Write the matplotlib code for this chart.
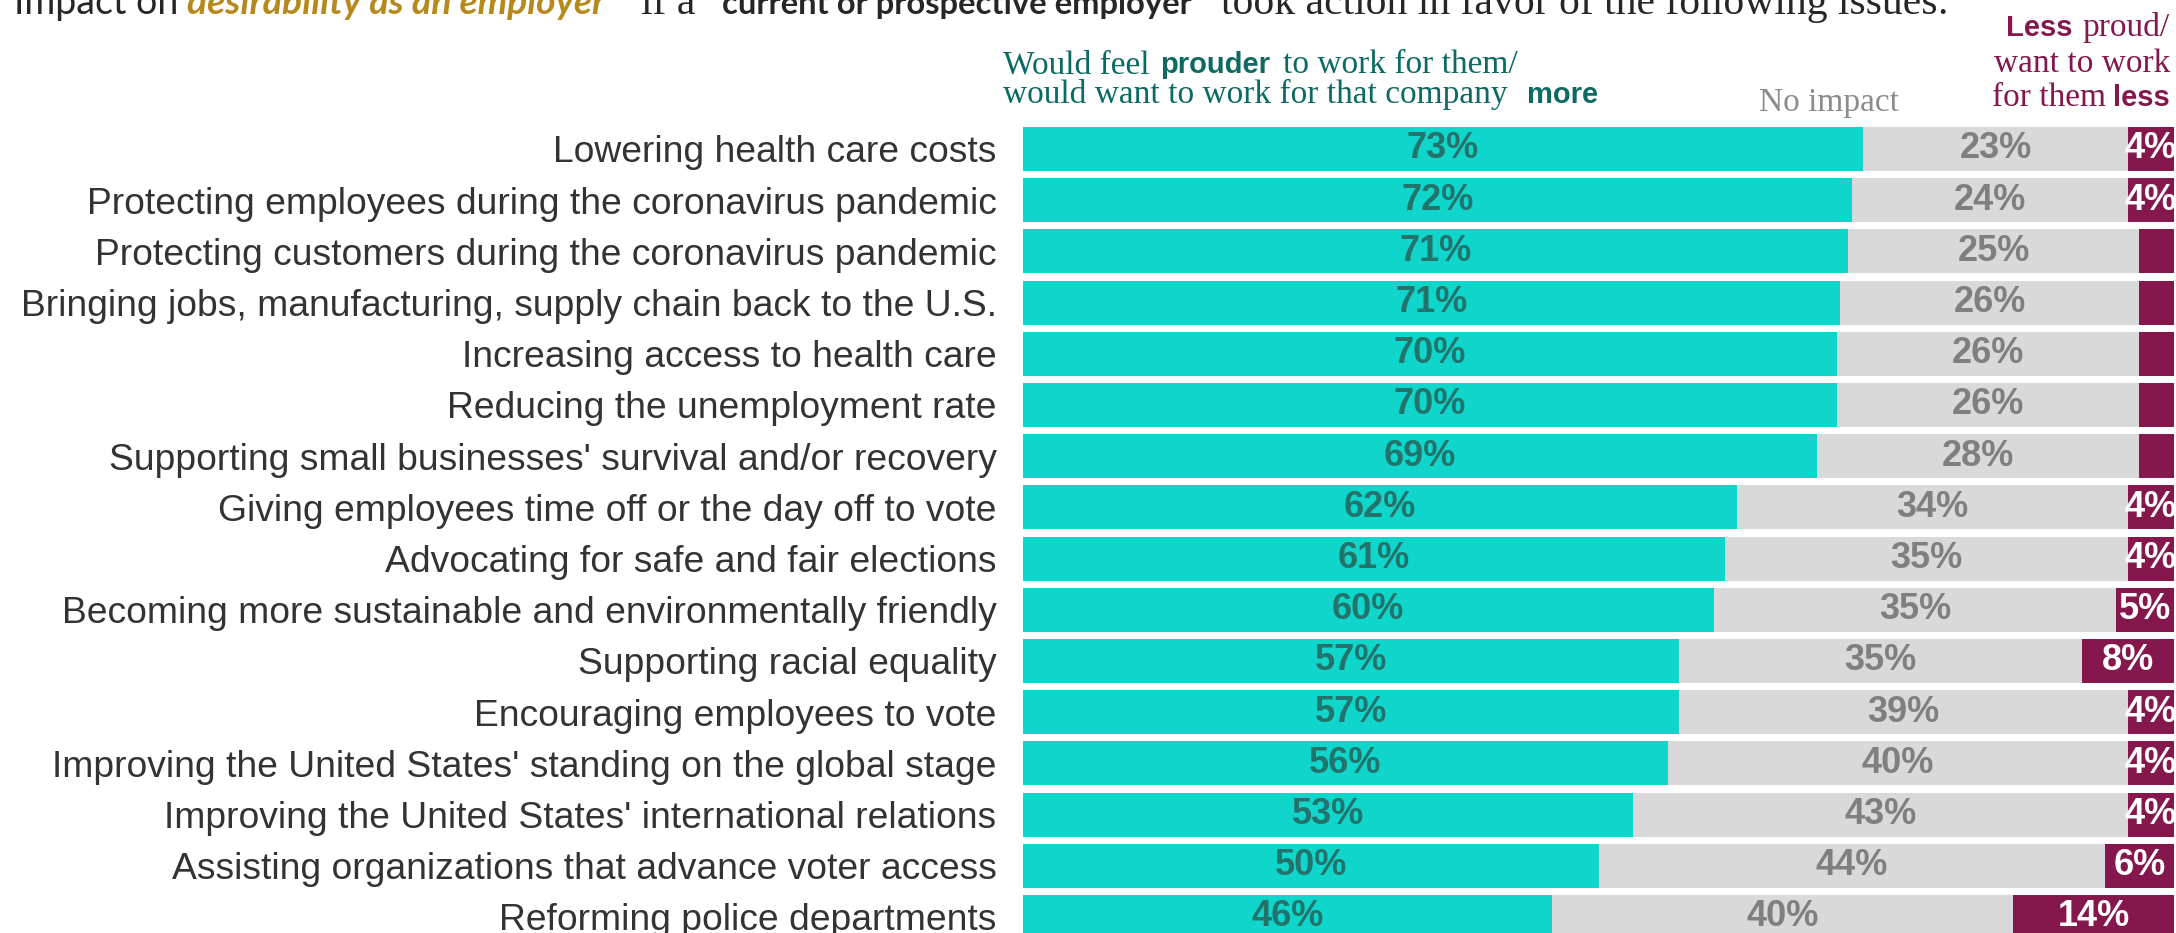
import matplotlib.pyplot as plt
import numpy as np

issues = [
    'Lowering health care costs',
    'Protecting employees during the coronavirus pandemic',
    'Protecting customers during the coronavirus pandemic',
    'Bringing jobs, manufacturing, supply chain back to the U.S.',
    'Increasing access to health care',
    'Reducing the unemployment rate',
    "Supporting small businesses' survival and/or recovery",
    'Giving employees time off or the day off to vote',
    'Advocating for safe and fair elections',
    'Becoming more sustainable and environmentally friendly',
    'Supporting racial equality',
    'Encouraging employees to vote',
    "Improving the United States' standing on the global stage",
    "Improving the United States' international relations",
    'Assisting organizations that advance voter access',
    'Reforming police departments',
]
more = [73, 72, 71, 71, 70, 70, 69, 62, 61, 60, 57, 57, 56, 53, 50, 46]
no_impact = [23, 24, 25, 26, 26, 26, 28, 34, 35, 35, 35, 39, 40, 43, 44, 40]
less = [4, 4, 3, 3, 3, 3, 3, 4, 4, 5, 8, 4, 4, 4, 6, 14]

TEAL = '#10d5cb'
GREY = '#d9d9d9'
PLUM = '#84174c'
SERIF = 'Liberation Serif'
SANS = 'Liberation Sans'

W, H = 2176, 933
fig = plt.figure(figsize=(W / 100, H / 100), dpi=100)
ax = fig.add_axes([1023 / W, 1 - 942.6 / H, 1151 / W, (942.6 - 123.4) / H])

# 100% stacked bars: each row is scaled by its own total
raw = [np.array(v, dtype=float) for v in (more, no_impact, less)]
total = raw[0] + raw[1] + raw[2]
y = np.arange(len(issues))
left = np.zeros(len(issues))
for vals, colour, txt in zip(raw, (TEAL, GREY, PLUM), ('#21736c', '#7f7f7f', 'white')):
    share = vals / total * 100
    bars = ax.barh(y, share, left=left, height=0.86, color=colour, linewidth=0)
    labels = [f'{v:.0f}%' if v >= 4 else '' for v in vals]
    ax.bar_label(bars, labels=labels, label_type='center', color=txt,
                 fontsize=26, family=SANS, weight='bold')
    left += share

ax.set_xlim(0, 100)
ax.set_ylim(15.5, -0.5)
ax.set_yticks(y, issues, fontsize=26.85, color='#333333', family=SANS)
ax.tick_params(axis='y', length=0, pad=19)
ax.set_xticks([])
for s in ax.spines.values():
    s.set_visible(False)


def put(x, yy, s, **kw):
    kw.setdefault('va', 'baseline')
    return fig.text(x / W, 1 - yy / H, s, **kw)


# title line
INK = '#262626'
put(14, 14, 'Impact on', family='Lato', size=27, color=INK)
put(187, 14, 'desirability as an employer', family='Lato', size=26.8,
    weight='bold', style='italic', color='#b5891c')
put(620, 14, '"', family=SERIF, size=30, color=INK)
put(641, 14, 'if a', family=SERIF, size=30, color=INK)
put(722, 14, 'current or prospective employer', family='Lato', size=23.6,
    weight='bold', color=INK)
put(1200, 14, '"', family=SERIF, size=30, color=INK)
put(1221, 14, 'took action in favor of the following issues:', family=SERIF,
    size=30, color=INK)

# column headers
DARK_TEAL = '#0b6b62'
put(1003, 73, 'Would feel', family=SERIF, size=24, color=DARK_TEAL)
put(1160, 73, 'prouder', family=SANS, size=21, weight='bold', color=DARK_TEAL)
put(1283, 73, 'to work for them/', family=SERIF, size=24, color=DARK_TEAL)
put(1003, 103, 'would want to work for that company', family=SERIF, size=24,
    color=DARK_TEAL)
put(1527, 103, 'more', family=SANS, size=21, weight='bold', color=DARK_TEAL)

put(1759, 111, 'No impact', family=SERIF, size=24, color='#8c8c8c')

put(2006, 36, 'Less', family=SANS, size=21, weight='bold', color=PLUM)
put(2170, 36, 'proud/', family=SERIF, size=24, color=PLUM, ha='right')
put(2170, 72, 'want to work', family=SERIF, size=24, color=PLUM, ha='right')
put(1992, 106, 'for them', family=SERIF, size=24, color=PLUM)
put(2170, 106, 'less', family=SANS, size=21, weight='bold', color=PLUM, ha='right')

fig.savefig('out.png', dpi=100)
